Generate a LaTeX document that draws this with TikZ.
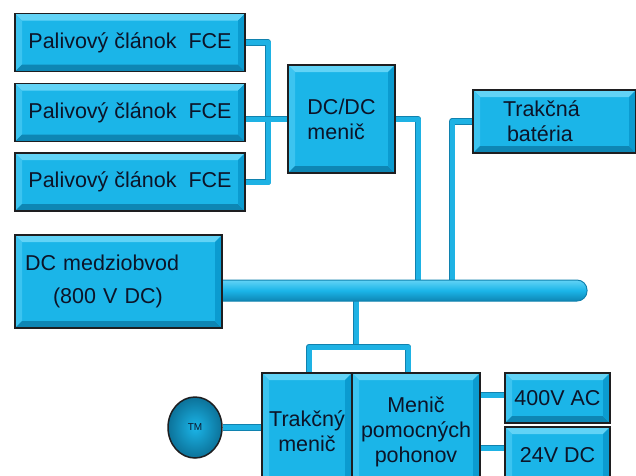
\documentclass[tikz,border=0pt]{standalone}
\usepackage{fontspec}
\setmainfont{Liberation Sans}
\usetikzlibrary{backgrounds,shapes.geometric,calc}
\definecolor{boxc}{RGB}{27,181,232}
\definecolor{boxlight}{RGB}{98,211,246}
\definecolor{boxleft}{RGB}{60,196,240}
\definecolor{boxdark}{RGB}{14,134,180}
\definecolor{boxright}{RGB}{11,155,208}
\definecolor{edgec}{RGB}{30,30,32}
\definecolor{connc}{RGB}{30,178,228}
\definecolor{conndark}{RGB}{16,130,175}
\definecolor{txtc}{RGB}{12,20,40}
\tikzset{
  bev/.style={draw=edgec, line width=1.8pt, fill=boxc, inner sep=0pt, outer sep=0pt,
    text=txtc, align=center, font=\fontsize{21.5}{25}\selectfont,
    path picture={
      \path (path picture bounding box.south west) coordinate (SW)
            (path picture bounding box.north east) coordinate (NE);
      \fill[boxlight] (SW |- NE) -- (NE) -- ([xshift=-7pt,yshift=-7pt]NE)
            -- ([xshift=7pt,yshift=-7pt]SW |- NE) -- cycle;
      \fill[boxleft] (SW) -- (SW |- NE) -- ([xshift=7pt,yshift=-7pt]SW |- NE)
            -- ([xshift=7pt,yshift=7pt]SW) -- cycle;
      \fill[boxdark] (SW) -- (NE |- SW) -- ([xshift=-7pt,yshift=7pt]NE |- SW)
            -- ([xshift=7pt,yshift=7pt]SW) -- cycle;
      \fill[boxright] (NE |- SW) -- (NE) -- ([xshift=-7pt,yshift=-7pt]NE)
            -- ([xshift=-7pt,yshift=7pt]NE |- SW) -- cycle;
    }},
  conn/.style={line width=5pt, draw=connc, line join=round,
    preaction={draw=conndark, line width=6.6pt, line join=round}},
}
\begin{document}
\begin{tikzpicture}[x=1pt,y=-1pt]
\path[use as bounding box, clip] (0,0) rectangle (636,475);
% bus
\node[draw=conndark, line width=1pt, rounded corners=10pt, minimum width=382pt,
  minimum height=21pt, inner sep=0pt, top color=boxlight, bottom color=boxdark,
  middle color=boxc] (bus) at (396,290.5) {};
% boxes
\node[bev, minimum width=230pt, minimum height=58pt] (fce1) at (130,42.5) {Palivový článok\ \ FCE};
\node[bev, minimum width=230pt, minimum height=58pt] (fce2) at (130,112.5) {Palivový článok\ \ FCE};
\node[bev, minimum width=230pt, minimum height=58pt] (fce3) at (130,182) {Palivový článok\ \ FCE};
\node[bev, minimum width=107pt, minimum height=108pt, align=left] (dcdc) at (341.5,119) {DC/DC\\menič};
\node[bev, minimum width=163pt, minimum height=63pt, text width=103pt, align=left] (bat) at (554.5,121.5) {Trakčná\\\hspace*{4pt}batéria};
\node[bev, minimum width=207pt, minimum height=93pt, text width=187pt, align=left] (dcm) at (118.5,281.5) {DC medziobvod\\[8pt]\hspace*{28pt}(800 V DC)};
\node[bev, minimum width=90pt, minimum height=117pt] (tmen) at (307,431.5) {\raisebox{4pt}{\parbox{80pt}{\centering Trakčný\\menič}}};
\node[bev, minimum width=128pt, minimum height=117pt] (mpp) at (416,431.5) {Menič\\pomocných\\pohonov};
\node[bev, minimum width=105pt, minimum height=50pt] (ac) at (557.5,398) {400V AC};
\node[bev, minimum width=105pt, minimum height=63pt] (dc24) at (557.5,458.5) {\raisebox{8pt}{24V DC}};
\node[ellipse, draw=edgec, line width=1.5pt, minimum width=54pt, minimum height=61pt,
  inner sep=0pt, shading=radial, inner color=boxc, outer color=boxdark!85!black,
  text=txtc, font=\fontsize{10}{12}\selectfont] (tm) at (195,427.5) {TM};
% junction coordinates
\coordinate (j1) at (268,112);
\coordinate (b1) at (418,290);
\coordinate (b2) at (452,290);
\coordinate (b3) at (356,290);
\coordinate (s) at (356,347);
\coordinate (sL) at (309,347);
\coordinate (sR) at (408,347);
\path ([yshift=10.5pt]dc24.west) coordinate (d24in);
\path ([yshift=3pt]ac.west) coordinate (acin);
\begin{pgfonlayer}{background}
\fill[white] (0,0) rectangle (636,475);
\draw[conn] (fce1.east) -| (j1) |- (fce3.east);
\draw[conn] (dcdc.west) -- (dcdc.west -| fce2.east);
\draw[conn] (dcdc.east) -| (b1);
\draw[conn] (bat.west) -| (b2);
\draw[conn] (b3) -- (s);
\draw[conn] (tmen.north -| sL) |- (sR) -- (sR |- mpp.north);
\draw[conn] (acin) -- (acin -| mpp.east);
\draw[conn] (d24in) -- (d24in -| mpp.east);
\draw[conn] (tm.east) -- (tm.east -| tmen.west);
\end{pgfonlayer}
\end{tikzpicture}
\end{document}
